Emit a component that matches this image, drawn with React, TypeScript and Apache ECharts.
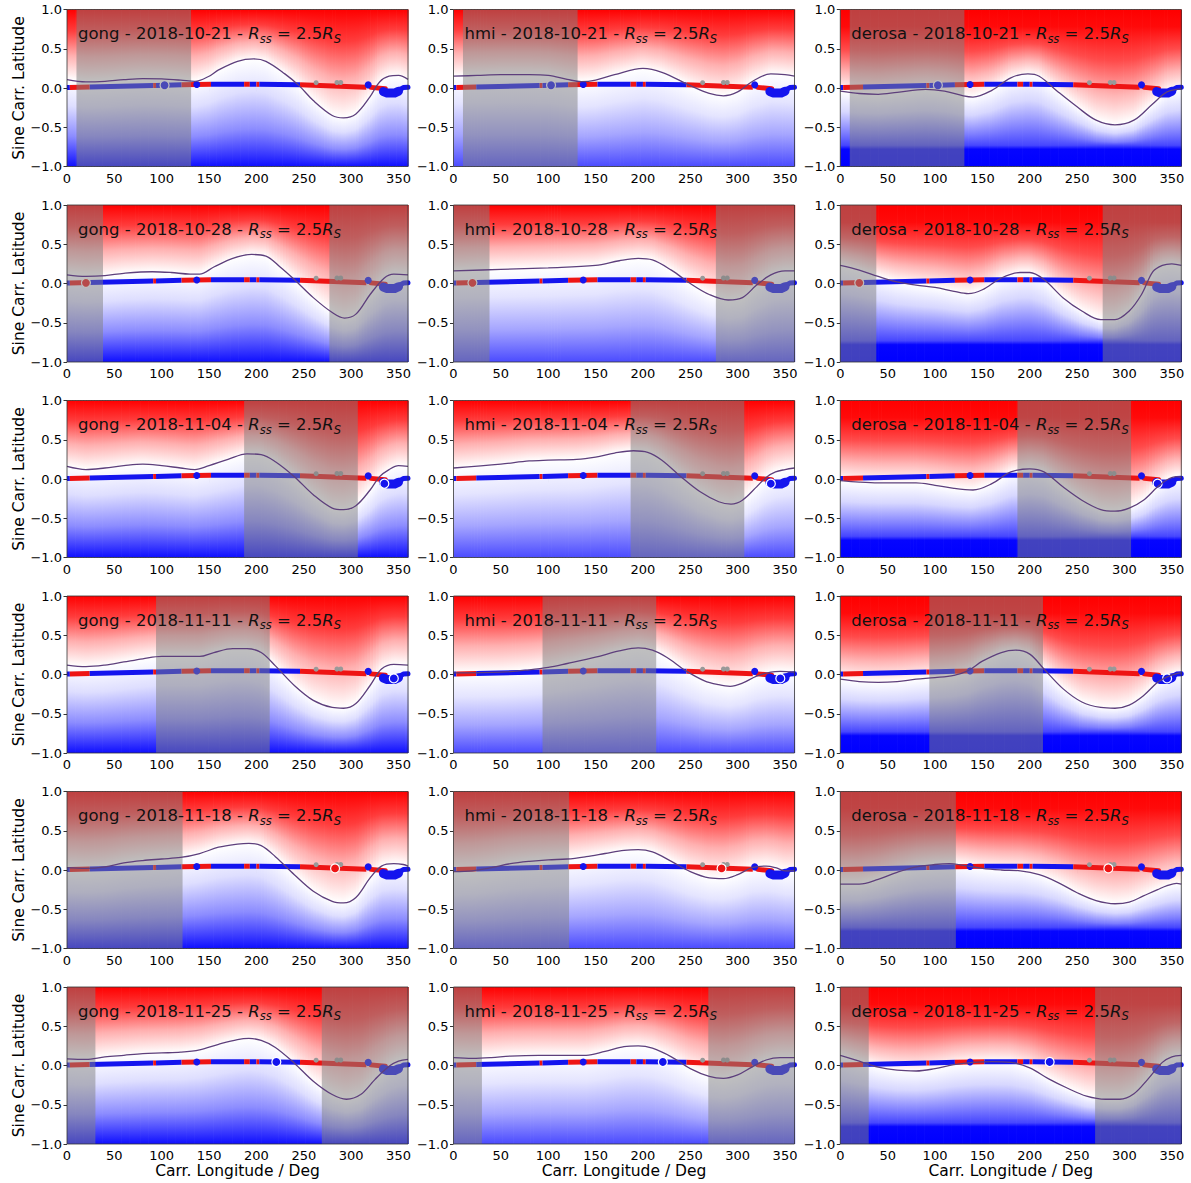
import React, { useEffect, useRef } from "react";
import * as echarts from "echarts";

const FONT = "DejaVu Sans";

const sources = ["gong", "hmi", "derosa"];
const dates = ["2018-10-21", "2018-10-28", "2018-11-04", "2018-11-11", "2018-11-18", "2018-11-25"];

// shaded longitude windows per row
const shadeRanges = [
  [[10, 131]],
  [[0, 38], [277, 360]],
  [[187, 307]],
  [[94, 214]],
  [[0, 122]],
  [[0, 30], [269, 360]],
];

// current-position marker per row [lon, lat, polarity]
const markers: [number, number, string][] = [
  [103, 0.035, "b"],
  [20, 0.008, "r"],
  [335, -0.06, "b"],
  [345, -0.05, "b"],
  [283, 0.02, "r"],
  [221, 0.045, "b"],
];

// spacecraft track footpoints
const trackLon = [0, 3, 24, 91, 94, 121, 152, 187, 193, 200, 203, 246, 316];
const trackLat = [0.005, 0.006, 0.012, 0.032, 0.033, 0.04, 0.047, 0.048, 0.048, 0.047, 0.047, 0.04, 0.008];
const trackPol = ["b", "r", "b", "r", "b", "r", "b", "r", "b", "r", "b", "r"];
const trackTailRed = [[321, 0.008], [336, -0.01]];
const trackBlob = [[334, -0.045], [338, -0.065], [346, -0.065], [350, -0.04]];
const trackEnd = [[350, -0.03], [355, 0.005], [360, 0.01]];
const grayDots = [[263, 0.068], [285, 0.07], [289, 0.07]];
const blueDots = [[137, 0.045], [318, 0.04]];

// neutral lines (Carr. lon, sine lat)
const gong1021 = [[0,0.106],[20,0.077],[40,0.085],[60,0.106],[80,0.12],[100,0.115],[120,0.1],[135,0.085],[150,0.15],[160,0.23],[180,0.34],[197,0.37],[210,0.34],[230,0.18],[245,0.03],[260,-0.16],[280,-0.35],[292,-0.38],[305,-0.33],[320,-0.11],[330,0.077],[340,0.15],[350,0.16],[360,0.11]];
const hmi1021 = [[0,0.15],[25,0.16],[50,0.17],[80,0.17],[100,0.16],[120,0.11],[135,0.08],[150,0.1],[170,0.17],[200,0.25],[220,0.2],[250,0.03],[270,-0.07],[285,-0.1],[300,-0.05],[315,0.08],[335,0.18],[350,0.17],[360,0.15]];
const derosa1021 = [[0,-0.04],[20,-0.07],[40,-0.08],[60,-0.055],[90,-0.017],[110,-0.04],[130,-0.1],[140,-0.115],[160,-0.03],[180,0.13],[198,0.18],[210,0.15],[230,-0.05],[250,-0.24],[270,-0.41],[290,-0.47],[310,-0.41],[330,-0.2],[345,-0.05],[360,-0.01]];
const gong1028 = [[0,0.11],[20,0.09],[40,0.1],[60,0.13],[90,0.15],[110,0.14],[130,0.12],[140,0.12],[155,0.21],[175,0.32],[195,0.37],[210,0.35],[225,0.21],[240,0.05],[260,-0.18],[280,-0.37],[293,-0.44],[305,-0.39],[320,-0.14],[335,0.07],[345,0.12],[360,0.11]];
const hmi1028 = [[0,0.16],[50,0.18],[100,0.2],[150,0.23],[175,0.29],[195,0.32],[210,0.3],[230,0.17],[250,0.0],[270,-0.14],[290,-0.21],[305,-0.18],[320,-0.02],[335,0.11],[350,0.16],[360,0.16]];
const derosa1028 = [[0,0.23],[20,0.17],[40,0.09],[60,0.02],[80,-0.02],[100,-0.05],[120,-0.1],[135,-0.13],[150,-0.08],[170,0.07],[190,0.14],[200,0.14],[215,0.05],[235,-0.18],[255,-0.35],[275,-0.46],[290,-0.46],[305,-0.35],[318,-0.14],[330,0.15],[340,0.23],[350,0.25],[360,0.23]];
const gong1104 = [[0,0.16],[20,0.12],[40,0.14],[60,0.17],[80,0.19],[100,0.17],[120,0.14],[135,0.12],[150,0.17],[170,0.25],[190,0.32],[205,0.31],[220,0.22],[240,0.03],[260,-0.2],[280,-0.37],[292,-0.39],[305,-0.34],[320,-0.14],[330,0.03],[340,0.12],[350,0.17],[360,0.16]];
const hmi1104 = [[0,0.14],[50,0.19],[80,0.23],[100,0.24],[130,0.25],[150,0.28],[170,0.33],[190,0.36],[205,0.34],[220,0.24],[240,0.03],[260,-0.16],[280,-0.29],[293,-0.32],[305,-0.27],[320,-0.1],[330,0.02],[340,0.09],[350,0.12],[360,0.14]];
const derosa1104 = [[0,-0.02],[20,-0.04],[40,-0.05],[80,-0.05],[100,-0.08],[120,-0.12],[140,-0.14],[160,-0.06],[180,0.09],[200,0.13],[215,0.09],[235,-0.1],[255,-0.27],[275,-0.39],[290,-0.41],[305,-0.37],[320,-0.27],[335,-0.1],[345,-0.01],[355,0.03],[360,0.02]];
const gong1111 = [[0,0.12],[20,0.1],[40,0.12],[60,0.16],[80,0.2],[100,0.23],[120,0.23],[140,0.23],[155,0.28],[175,0.33],[190,0.33],[205,0.28],[220,0.11],[240,-0.14],[260,-0.33],[280,-0.42],[292,-0.43],[305,-0.37],[320,-0.14],[332,0.07],[345,0.13],[360,0.12]];
const hmi1111 = [[0,0.02],[50,0.03],[80,0.06],[100,0.09],[120,0.14],[150,0.22],[175,0.3],[195,0.34],[210,0.31],[225,0.22],[245,0.05],[265,-0.08],[280,-0.13],[292,-0.15],[305,-0.11],[320,-0.02],[335,0.03],[345,0.04],[360,0.03]];
const derosa1111 = [[0,-0.06],[20,-0.09],[40,-0.1],[60,-0.09],[80,-0.06],[100,-0.04],[120,-0.01],[135,0.05],[150,0.17],[170,0.28],[185,0.31],[200,0.26],[215,0.07],[235,-0.18],[255,-0.35],[275,-0.42],[290,-0.43],[305,-0.39],[320,-0.27],[335,-0.1],[345,-0.03],[355,0.01],[360,0.02]];
const gong1118 = [[0,0.03],[20,0.02],[40,0.04],[60,0.09],[80,0.12],[100,0.14],[120,0.16],[140,0.21],[160,0.29],[180,0.33],[192,0.34],[205,0.31],[220,0.17],[240,-0.06],[260,-0.27],[280,-0.4],[292,-0.42],[305,-0.35],[320,-0.1],[332,0.05],[345,0.08],[355,0.07],[360,0.05]];
const hmi1118 = [[0,-0.02],[20,-0.01],[40,0.03],[60,0.08],[80,0.11],[100,0.13],[120,0.14],[140,0.17],[160,0.21],[180,0.25],[195,0.26],[210,0.23],[230,0.11],[250,-0.02],[270,-0.1],[285,-0.11],[300,-0.06],[315,0.03],[330,0.05],[340,0.03],[350,-0.01],[360,-0.01]];
const derosa1118 = [[0,-0.18],[20,-0.18],[40,-0.12],[60,-0.03],[80,0.04],[100,0.07],[115,0.08],[130,0.06],[150,0.02],[170,0.0],[190,-0.01],[210,-0.06],[230,-0.16],[250,-0.29],[270,-0.39],[290,-0.43],[305,-0.41],[320,-0.33],[335,-0.25],[345,-0.2],[355,-0.17],[360,-0.18]];
const gong1125 = [[0,0.085],[20,0.077],[40,0.11],[60,0.13],[80,0.15],[100,0.16],[120,0.17],[140,0.2],[160,0.27],[180,0.33],[192,0.345],[205,0.32],[220,0.23],[240,0.03],[260,-0.2],[280,-0.37],[295,-0.43],[310,-0.37],[325,-0.18],[340,-0.01],[350,0.055],[360,0.077]];
const hmi1125 = [[0,0.1],[20,0.09],[40,0.1],[60,0.12],[90,0.13],[120,0.13],[140,0.13],[160,0.18],[180,0.24],[195,0.25],[210,0.22],[230,0.11],[250,-0.04],[270,-0.14],[285,-0.165],[300,-0.12],[315,-0.02],[330,0.07],[345,0.1],[360,0.1]];
const derosa1125 = [[0,0.13],[20,0.055],[40,-0.02],[60,-0.06],[80,-0.07],[100,-0.04],[120,0.01],[140,0.04],[160,0.05],[180,0.04],[200,-0.03],[220,-0.17],[240,-0.29],[260,-0.39],[280,-0.43],[295,-0.43],[310,-0.36],[325,-0.17],[340,0.04],[350,0.11],[360,0.13]];

const neutralLines = [
  [gong1021, hmi1021, derosa1021],
  [gong1028, hmi1028, derosa1028],
  [gong1104, hmi1104, derosa1104],
  [gong1111, hmi1111, derosa1111],
  [gong1118, hmi1118, derosa1118],
  [gong1125, hmi1125, derosa1125],
];

const xTicks = [0, 50, 100, 150, 200, 250, 300, 350];
const yTicks = [-1, -0.5, 0, 0.5, 1];

const RED = "#ee1414";
const BLUE = "#1414ee";
const LINE_COLOR = "#5e3f7c";

const colLeft = [67, 453.5, 840.3];
const PW = 341;
const PH = 157;
const rowTop = (r: number) => 9.5 + r * 195.5;

// track pieces built from the named arrays above
type Seg = { pts: number[][]; color: string; width: number; cap: string };
const trackSegments: Seg[] = [];
for (let i = 0; i < trackPol.length; i++) {
  trackSegments.push({
    pts: [[trackLon[i], trackLat[i]], [trackLon[i + 1], trackLat[i + 1]]],
    color: trackPol[i] === "r" ? RED : BLUE,
    width: 5,
    cap: "butt",
  });
}
trackSegments.push({ pts: trackTailRed, color: RED, width: 5, cap: "round" });
trackSegments.push({ pts: trackEnd, color: BLUE, width: 5, cap: "round" });
trackSegments.push({ pts: trackBlob, color: BLUE, width: 9, cap: "round" });

function gradientFor(v: number, src: string) {
  const u = (1 - v) / 2;
  let stops: { offset: number; color: string }[];
  if (src === "derosa") {
    const rt = 0.11;
    const bb = 0.89;
    stops = [
      { offset: 0, color: "rgb(255,0,0)" },
      { offset: rt, color: "rgb(255,10,10)" },
      { offset: rt + (u - rt) * 0.35, color: "rgb(255,75,75)" },
      { offset: rt + (u - rt) * 0.7, color: "rgb(255,180,180)" },
      { offset: u, color: "rgb(255,255,255)" },
      { offset: u + (bb - u) * 0.35, color: "rgb(215,215,255)" },
      { offset: u + (bb - u) * 0.72, color: "rgb(125,125,255)" },
      { offset: bb - 0.025, color: "rgb(70,70,255)" },
      { offset: bb, color: "rgb(5,5,255)" },
      { offset: 1, color: "rgb(0,0,255)" },
    ];
  } else {
    const bottom = src === "hmi" ? "rgb(75,75,255)" : "rgb(15,15,255)";
    const mid = src === "hmi" ? "rgb(165,165,255)" : "rgb(140,140,255)";
    const lt = src === "hmi" ? "rgb(228,228,255)" : "rgb(222,222,255)";
    stops = [
      { offset: 0, color: "rgb(255,0,0)" },
      { offset: u * 0.3, color: "rgb(255,60,60)" },
      { offset: u * 0.65, color: "rgb(255,175,175)" },
      { offset: u, color: "rgb(255,255,255)" },
      { offset: u + (1 - u) * 0.3, color: lt },
      { offset: u + (1 - u) * 0.65, color: mid },
      { offset: 1, color: bottom },
    ];
  }
  return new echarts.graphic.LinearGradient(0, 0, 0, 1, stops);
}

function bgRender(line: number[][], src: string) {
  return (params: any, api: any) => {
    const i = params.dataIndex;
    if (i >= line.length - 1) return null;
    const [l0, v0] = line[i];
    const [l1, v1] = line[i + 1];
    const p0 = api.coord([l0, 1]);
    const p1 = api.coord([l1, -1]);
    const x0 = p0[0], x1 = p1[0], yT = p0[1], yB = p1[1];
    const n = Math.max(1, Math.ceil((x1 - x0) / 3));
    const children: any[] = [];
    for (let k = 0; k < n; k++) {
      const xa = x0 + ((x1 - x0) * k) / n;
      const xb = x0 + ((x1 - x0) * (k + 1)) / n;
      const f = (k + 0.5) / n;
      const v = v0 + (v1 - v0) * f;
      children.push({
        type: "rect",
        shape: { x: xa, y: yT, width: xb - xa + 0.7, height: yB - yT },
        style: { fill: gradientFor(v, src) },
      });
    }
    return { type: "group", children };
  };
}

function trackRender(params: any, api: any) {
  const s = trackSegments[params.dataIndex];
  if (!s) return null;
  return {
    type: "polyline",
    shape: { points: s.pts.map((p) => api.coord(p)) },
    style: { stroke: s.color, lineWidth: s.width, lineCap: s.cap, lineJoin: "round", fill: null },
  };
}

function shadeRender(params: any, api: any) {
  const a = api.value(0);
  const b = api.value(1);
  const p0 = api.coord([a, 1]);
  const p1 = api.coord([b, -1]);
  return {
    type: "rect",
    shape: { x: p0[0], y: p0[1], width: p1[0] - p0[0], height: p1[1] - p0[1] },
    style: { fill: "rgba(128,128,128,0.5)" },
  };
}

function buildOption() {
  const grid: any[] = [];
  const xAxis: any[] = [];
  const yAxis: any[] = [];
  const series: any[] = [];
  const title: any[] = [];
  const graphic: any[] = [];

  const trackData = trackSegments.map((s) => [s.pts[0][0], s.pts[0][1]]);

  for (let r = 0; r < 6; r++) {
    for (let c = 0; c < 3; c++) {
      const g = r * 3 + c;
      const left = colLeft[c];
      const top = rowTop(r);
      const src = sources[c];
      const line = neutralLines[r][c];
      grid.push({ left, top, width: PW, height: PH, containLabel: false });
      xAxis.push({
        type: "value",
        gridIndex: g,
        min: 0,
        max: 360,
        interval: 50,
        axisLine: { show: false },
        axisTick: { show: true, inside: false, length: 3.5, customValues: xTicks, lineStyle: { color: "#000", width: 0.8 } },
        axisLabel: { show: true, customValues: xTicks, color: "#000", fontSize: 13, fontFamily: FONT, margin: 5 },
        splitLine: { show: false },
        name: r === 5 ? "Carr. Longitude / Deg" : "",
        nameLocation: "middle",
        nameGap: 17,
        nameTextStyle: { fontSize: 15.5, fontFamily: FONT, color: "#000" },
      });
      yAxis.push({
        type: "value",
        gridIndex: g,
        min: -1,
        max: 1,
        interval: 0.5,
        axisLine: { show: false },
        axisTick: { show: true, inside: false, length: 3.5, customValues: yTicks, lineStyle: { color: "#000", width: 0.8 } },
        axisLabel: {
          show: true,
          customValues: yTicks,
          color: "#000",
          fontSize: 13,
          fontFamily: FONT,
          margin: 5,
          formatter: (v: number) => (v < 0 ? "\u2212" : "") + Math.abs(v).toFixed(1),
        },
        splitLine: { show: false },
        name: c === 0 ? "Sine Carr. Latitude" : "",
        nameLocation: "middle",
        nameGap: 39,
        nameTextStyle: { fontSize: 15.5, fontFamily: FONT, color: "#000" },
      });

      series.push({
        type: "custom",
        xAxisIndex: g,
        yAxisIndex: g,
        z: 1,
        silent: true,
        renderItem: bgRender(line, src),
        data: line,
        encode: { x: 0, y: 1 },
      });
      series.push({
        type: "custom",
        xAxisIndex: g,
        yAxisIndex: g,
        z: 3,
        silent: true,
        renderItem: trackRender,
        data: trackData,
        encode: { x: 0, y: 1 },
      });
      series.push({
        type: "scatter",
        xAxisIndex: g,
        yAxisIndex: g,
        z: 3,
        silent: true,
        symbolSize: 5,
        itemStyle: { color: "#999", opacity: 1 },
        data: grayDots,
      });
      series.push({
        type: "scatter",
        xAxisIndex: g,
        yAxisIndex: g,
        z: 3,
        silent: true,
        symbolSize: 7,
        itemStyle: { color: BLUE, opacity: 1 },
        data: blueDots,
      });
      const m = markers[r];
      series.push({
        type: "scatter",
        xAxisIndex: g,
        yAxisIndex: g,
        z: 3,
        silent: true,
        symbolSize: 9,
        itemStyle: { color: m[2] === "r" ? RED : BLUE, borderColor: "#fff", borderWidth: 1.2, opacity: 1 },
        data: [[m[0], m[1]]],
      });
      series.push({
        type: "custom",
        xAxisIndex: g,
        yAxisIndex: g,
        z: 4,
        silent: true,
        renderItem: shadeRender,
        data: shadeRanges[r],
        encode: { x: [0, 1] },
      });
      series.push({
        type: "line",
        xAxisIndex: g,
        yAxisIndex: g,
        z: 5,
        silent: true,
        smooth: 0.35,
        symbol: "none",
        lineStyle: { color: LINE_COLOR, width: 1.3 },
        data: line,
      });

      title.push({
        text: `${src} - ${dates[r]} - {i|R}{sub|ss} = 2.5{i|R}{sub|S}`,
        left: left + 11,
        top: top + 13,
        padding: 0,
        textStyle: {
          fontSize: 16.5,
          fontFamily: FONT,
          fontWeight: "normal",
          color: "#111",
          lineHeight: 22,
          rich: {
            i: { fontSize: 16.5, fontFamily: FONT, fontStyle: "italic", color: "#111", lineHeight: 22 },
            sub: { fontSize: 11.5, fontFamily: FONT, fontStyle: "italic", color: "#111", lineHeight: 14, verticalAlign: "bottom" },
          },
        },
      });

      graphic.push({
        type: "rect",
        z: 100,
        silent: true,
        shape: { x: left, y: top, width: PW, height: PH },
        style: { fill: "none", stroke: "#333", lineWidth: 0.8 },
      });
    }
  }

  return { animation: false, backgroundColor: "#fff", grid, xAxis, yAxis, series, title, graphic };
}

export default function App() {
  const ref = useRef<HTMLDivElement>(null);
  useEffect(() => {
    if (!ref.current) return;
    const chart = echarts.init(ref.current, undefined, { renderer: "svg" });
    chart.setOption(buildOption() as any);
    return () => chart.dispose();
  }, []);
  return (
    <div
      ref={ref}
      style={{ position: "absolute", left: 0, top: 0, width: 1191, height: 1183, background: "#fff" }}
    />
  );
}
